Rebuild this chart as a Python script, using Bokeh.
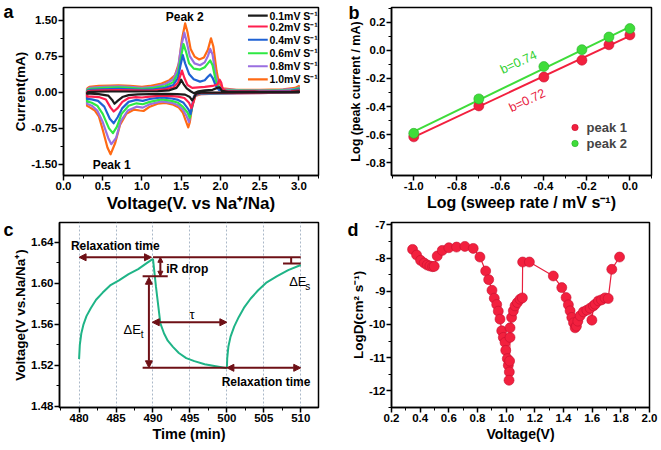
import numpy as np
from bokeh.plotting import figure
from bokeh.models import (Range1d, SingleIntervalTicker, PrintfTickFormatter, Legend, LegendItem,
                          Arrow, NormalHead, LinearAxis, FixedTicker, CustomJSTickFormatter)
from bokeh.layouts import column, row
from bokeh.embed import file_html
from bokeh.resources import INLINE
from bokeh.core.properties import value

# ---------------- Panel a data: CV loops (voltage V, current mA) ----------------
cv_rates = ["0.1mV S\u207b\u00b9", "0.2mV S\u207b\u00b9", "0.4mV S\u207b\u00b9",
            "0.6mV S\u207b\u00b9", "0.8mV S\u207b\u00b9", "1.0mV S\u207b\u00b9"]

cv01_v = [0.30, 0.35, 0.6, 0.9, 1.2, 1.35, 1.44, 1.48, 1.50, 1.53, 1.57, 1.62, 1.66, 1.72, 1.80, 1.90, 1.96, 1.99, 2.02, 2.10, 2.5, 2.9, 3.0,
          3.0, 2.5, 2.0, 1.75, 1.69, 1.66, 1.64, 1.61, 1.55, 1.45, 1.3, 1.1, 0.95, 0.83, 0.75, 0.69, 0.65, 0.62, 0.57, 0.45, 0.35, 0.30, 0.30]
cv01_i = [0.0, 0.01, 0.015, 0.015, 0.02, 0.04, 0.09, 0.18, 0.26, 0.17, 0.08, 0.02, -0.02, 0.02, 0.04, 0.05, 0.09, 0.10, 0.03, 0.01, 0.005, 0.01, 0.02,
          0.0, -0.005, -0.01, -0.01, -0.03, -0.12, -0.17, -0.10, -0.05, -0.04, -0.035, -0.04, -0.045, -0.06, -0.10, -0.18, -0.24, -0.16, -0.07, -0.04, -0.03, -0.03, 0.0]

cv02_v = [0.30, 0.35, 0.5, 0.7, 0.9, 1.0, 1.15, 1.3, 1.4, 1.46, 1.49, 1.51, 1.54, 1.58, 1.64, 1.72, 1.80, 1.90, 1.96, 1.99, 2.01, 2.03, 2.08, 2.5, 2.9, 3.0,
          3.0, 2.5, 2.0, 1.72, 1.68, 1.66, 1.63, 1.60, 1.54, 1.46, 1.38, 1.25, 1.1, 1.0, 0.92, 0.83, 0.75, 0.69, 0.64, 0.60, 0.54, 0.45, 0.36, 0.30, 0.30]
cv02_i = [0.02, 0.03, 0.04, 0.045, 0.04, 0.035, 0.04, 0.06, 0.10, 0.20, 0.35, 0.45, 0.30, 0.15, 0.09, 0.10, 0.11, 0.13, 0.16, 0.26, 0.20, 0.06, 0.02, 0.015, 0.02, 0.04,
          0.0, -0.01, -0.015, -0.02, -0.05, -0.18, -0.33, -0.22, -0.12, -0.09, -0.08, -0.07, -0.09, -0.11, -0.10, -0.12, -0.20, -0.33, -0.40, -0.32, -0.15, -0.10, -0.09, -0.09, 0.02]

cv04_v = [0.30, 0.35, 0.5, 0.7, 0.85, 1.0, 1.15, 1.3, 1.4, 1.46, 1.49, 1.52, 1.55, 1.60, 1.66, 1.74, 1.80, 1.84, 1.87, 1.90, 1.94, 1.98, 2.05, 2.5, 2.9, 3.0,
          3.0, 2.5, 2.0, 1.72, 1.67, 1.65, 1.62, 1.59, 1.53, 1.46, 1.38, 1.25, 1.1, 1.01, 0.93, 0.83, 0.75, 0.69, 0.64, 0.59, 0.52, 0.44, 0.36, 0.30, 0.30]
cv04_i = [0.03, 0.05, 0.06, 0.07, 0.06, 0.05, 0.06, 0.09, 0.15, 0.30, 0.55, 0.77, 0.60, 0.38, 0.27, 0.22, 0.25, 0.32, 0.37, 0.30, 0.14, 0.05, 0.03, 0.02, 0.03, 0.06,
          0.0, -0.01, -0.02, -0.03, -0.07, -0.22, -0.45, -0.35, -0.22, -0.16, -0.13, -0.11, -0.14, -0.18, -0.16, -0.20, -0.33, -0.52, -0.645, -0.55, -0.30, -0.18, -0.15, -0.14, 0.03]

cv06_v = [0.30, 0.34, 0.5, 0.7, 0.85, 1.0, 1.15, 1.3, 1.4, 1.46, 1.50, 1.53, 1.56, 1.60, 1.66, 1.74, 1.80, 1.84, 1.87, 1.90, 1.94, 1.98, 2.03, 2.5, 2.9, 3.0,
          3.0, 2.5, 2.0, 1.72, 1.67, 1.64, 1.61, 1.58, 1.52, 1.46, 1.38, 1.25, 1.1, 1.01, 0.93, 0.83, 0.74, 0.68, 0.63, 0.58, 0.50, 0.43, 0.36, 0.30, 0.30]
cv06_i = [0.05, 0.07, 0.09, 0.10, 0.09, 0.07, 0.09, 0.13, 0.21, 0.40, 0.75, 1.00, 0.85, 0.60, 0.49, 0.47, 0.52, 0.60, 0.66, 0.56, 0.25, 0.08, 0.04, 0.03, 0.04, 0.08,
          0.0, -0.01, -0.02, -0.03, -0.08, -0.30, -0.53, -0.42, -0.30, -0.22, -0.18, -0.15, -0.20, -0.25, -0.23, -0.28, -0.45, -0.72, -0.85, -0.75, -0.45, -0.28, -0.22, -0.19, 0.05]

cv08_v = [0.30, 0.33, 0.5, 0.7, 0.85, 1.0, 1.15, 1.3, 1.4, 1.46, 1.50, 1.54, 1.57, 1.61, 1.67, 1.74, 1.80, 1.84, 1.87, 1.90, 1.94, 1.98, 2.03, 2.3, 2.7, 2.95, 3.0,
          3.0, 2.5, 2.0, 1.72, 1.66, 1.63, 1.60, 1.57, 1.52, 1.46, 1.38, 1.25, 1.1, 1.01, 0.93, 0.82, 0.73, 0.67, 0.61, 0.57, 0.50, 0.43, 0.36, 0.30, 0.30]
cv08_i = [0.06, 0.09, 0.11, 0.12, 0.11, 0.09, 0.11, 0.17, 0.27, 0.50, 0.95, 1.24, 1.05, 0.75, 0.60, 0.56, 0.62, 0.75, 0.90, 0.78, 0.35, 0.12, 0.06, 0.04, 0.04, 0.07, 0.10,
          0.0, -0.02, -0.03, -0.04, -0.10, -0.35, -0.62, -0.50, -0.36, -0.27, -0.22, -0.19, -0.25, -0.32, -0.30, -0.38, -0.60, -0.95, -1.08, -0.95, -0.62, -0.38, -0.28, -0.24, 0.06]

cv10_v = [0.30, 0.33, 0.45, 0.6, 0.7, 0.85, 1.0, 1.1, 1.25, 1.35, 1.42, 1.47, 1.51, 1.55, 1.58, 1.62, 1.67, 1.73, 1.79, 1.84, 1.88, 1.91, 1.95, 1.98, 2.03, 2.2, 2.5, 2.8, 2.95, 3.0,
          3.0, 2.8, 2.4, 2.0, 1.75, 1.68, 1.64, 1.61, 1.59, 1.56, 1.52, 1.47, 1.4, 1.3, 1.2, 1.1, 1.02, 0.97, 0.9, 0.8, 0.72, 0.66, 0.60, 0.56, 0.50, 0.45, 0.40, 0.33, 0.30, 0.30]
cv10_i = [0.08, 0.11, 0.13, 0.14, 0.145, 0.13, 0.11, 0.13, 0.18, 0.25, 0.35, 0.60, 1.10, 1.43, 1.25, 0.90, 0.74, 0.68, 0.72, 0.88, 1.12, 0.95, 0.45, 0.20, 0.08, 0.05, 0.05, 0.06, 0.09, 0.13,
          0.0, -0.01, -0.02, -0.03, -0.04, -0.08, -0.30, -0.62, -0.73, -0.60, -0.42, -0.32, -0.26, -0.22, -0.24, -0.30, -0.39, -0.38, -0.36, -0.45, -0.68, -1.05, -1.29, -1.15, -0.78, -0.50, -0.38, -0.31, -0.28, 0.08]

# ---------------- Panel b data ----------------
log_rate = [-1.0, -0.699, -0.398, -0.222, -0.097, 0.0]
log_peak1 = [-0.615, -0.395, -0.19, -0.07, 0.04, 0.11]
log_peak2 = [-0.59, -0.345, -0.115, 0.005, 0.095, 0.155]

# ---------------- Panel c data (GITT step) ----------------
c_t1 = [480.0, 480.1, 480.3, 480.6, 481.0, 481.6, 482.3, 483.2, 484.2, 485.4, 486.7, 488.0, 489.2, 490.0]
c_v1 = [1.526, 1.540, 1.551, 1.560, 1.568, 1.576, 1.584, 1.591, 1.598, 1.603, 1.609, 1.614, 1.620, 1.624]
c_t2 = [490.0, 490.4, 491.0, 491.5, 492.0, 492.7, 493.5, 494.5, 495.6, 497.0, 498.5, 500.0]
c_v2 = [1.624, 1.597, 1.561, 1.551, 1.544, 1.538, 1.532, 1.527, 1.524, 1.521, 1.519, 1.517]
c_t3 = [500.0, 500.05, 500.2, 500.5, 501.0, 501.6, 502.3, 503.2, 504.2, 505.4, 506.8, 508.3, 510.0]
c_v3 = [1.517, 1.527, 1.538, 1.548, 1.558, 1.567, 1.576, 1.585, 1.593, 1.601, 1.607, 1.613, 1.618]

# ---------------- Panel d data ----------------
d_v = [0.347, 0.375, 0.403, 0.428, 0.449, 0.468, 0.487, 0.498, 0.519, 0.554, 0.600, 0.654, 0.712, 0.770, 0.817,
       0.857, 0.878, 0.901, 0.917, 0.934, 0.945, 0.957, 0.969, 0.980, 0.992, 0.997, 1.008, 1.015, 1.022, 1.020,
       1.024, 1.027, 1.027, 1.038, 1.050, 1.062, 1.078, 1.097, 1.113, 1.115, 1.162, 1.329, 1.388, 1.418, 1.434,
       1.446, 1.458, 1.470, 1.481, 1.490, 1.500, 1.516, 1.539, 1.563, 1.586, 1.598, 1.609, 1.621, 1.644, 1.665,
       1.690, 1.712, 1.737, 1.791]
d_logD = [-7.74, -7.91, -8.07, -8.15, -8.21, -8.24, -8.26, -8.25, -7.94, -7.77, -7.69, -7.67, -7.65, -7.71, -7.97,
          -8.39, -8.65, -8.97, -9.21, -9.40, -9.60, -9.84, -10.19, -10.39, -10.54, -10.78, -11.03, -11.23, -11.43, -11.68,
          -11.10, -10.39, -10.10, -9.79, -9.59, -9.44, -9.34, -9.24, -9.20, -8.12, -8.12, -8.54, -8.89, -9.19, -9.41,
          -9.59, -9.79, -9.95, -10.10, -10.05, -9.90, -9.74, -9.62, -9.57, -9.51, -9.87, -9.44, -9.39, -9.29, -9.26,
          -9.20, -9.22, -8.34, -7.97]

FONT = "Liberation Sans"
MAROON = "#6e1016"


def style(p, xfmt, yfmt, xint, yint, xsize, ysize="13.5px"):
    p.outline_line_color = "black"
    p.outline_line_width = 1.5
    p.grid.visible = False
    p.background_fill_color = "white"
    p.border_fill_color = "white"
    p.xaxis.ticker = SingleIntervalTicker(interval=xint, num_minor_ticks=2)
    p.yaxis.ticker = SingleIntervalTicker(interval=yint, num_minor_ticks=2)
    p.xaxis.formatter = PrintfTickFormatter(format=xfmt)
    p.yaxis.formatter = PrintfTickFormatter(format=yfmt)
    for ax in (p.xaxis[0], p.yaxis[0]):
        ax.axis_line_width = 1.5
        ax.major_tick_line_width = 1.5
        ax.minor_tick_line_width = 1
        ax.major_tick_in = 0
        ax.major_tick_out = 5
        ax.minor_tick_in = 0
        ax.minor_tick_out = 3
        ax.major_label_text_font = FONT
        ax.major_label_text_font_style = "bold"
        ax.major_label_text_font_size = "11.5px"
        ax.major_label_text_color = "black"
        ax.major_label_standoff = 2
        ax.axis_label_text_font = FONT
        ax.axis_label_text_font_style = "bold"
        ax.axis_label_text_color = "black"
        ax.axis_label_standoff = 2
    p.xaxis.axis_label_standoff = 1
    p.xaxis.major_label_standoff = 1
    p.yaxis.axis_label_standoff = 0
    p.yaxis.major_label_standoff = 1
    p.xaxis.axis_label_text_font_size = xsize
    p.yaxis.axis_label_text_font_size = ysize


def letter(p, txt, y_at, shift=0):
    # panel letter drawn as the only tick label of an otherwise invisible outer left axis
    ax = LinearAxis(ticker=FixedTicker(ticks=[y_at], minor_ticks=[]),
                    formatter=CustomJSTickFormatter(code="return '%s'" % txt),
                    axis_line_alpha=0, major_tick_line_alpha=0, minor_tick_line_alpha=0,
                    major_tick_out=0, major_tick_in=0, minor_tick_out=0, minor_tick_in=0,
                    major_label_standoff=0, major_label_text_font=FONT,
                    major_label_text_font_style="bold", major_label_text_font_size="18px",
                    major_label_text_color="black")
    if shift:
        try:
            ax.major_label_standoff = -shift
        except Exception:
            pass
    p.add_layout(ax, "left")


# ================= Panel a =================
pa = figure(width=330, height=216, output_backend="svg", toolbar_location=None,
            x_range=Range1d(0.0, 3.25), y_range=Range1d(-1.73, 1.76),
            min_border_left=60, min_border_right=12, min_border_top=7, min_border_bottom=41)
style(pa, "%.1f", "%.2f", 0.5, 0.75, "17px")
pa.xaxis.axis_label = "Voltage(V. vs Na\u207a/Na)"
pa.yaxis.axis_label = "Current(mA)"

cv_sets = [(cv01_v, cv01_i, "#1c1c1c"), (cv02_v, cv02_i, "#ff1f4f"), (cv04_v, cv04_i, "#1f62d4"),
           (cv06_v, cv06_i, "#2ee843"), (cv08_v, cv08_i, "#9a6fe0"), (cv10_v, cv10_i, "#ff6a14")]
for k in range(len(cv_sets) - 1, -1, -1):
    v, i, col = cv_sets[k]
    pa.line(v, i, line_color=col, line_width=2.2, line_join="round")

# hand-built key (legend layout positions in data units of panel a)
key_rows = [1.59, 1.365, 1.09, 0.81, 0.54, 0.265]
key_x0, key_x1, key_tx = 2.351, 2.603, 2.625
pa.segment(x0=[key_x0] * 6, y0=key_rows, x1=[key_x1] * 6, y1=key_rows,
           line_color=[c for _, _, c in cv_sets], line_width=2.2)
pa.text(x=[key_tx] * 6, y=key_rows, text=cv_rates, text_font=value(FONT), text_font_style="bold",
        text_font_size="10.5px", text_align="left", text_baseline="middle", text_color="black")

pa.text(x=[1.545], y=[1.571], text=["Peak 2"], text_font=value(FONT), text_font_style="bold",
        text_font_size="12px", text_align="center", text_baseline="middle")
pa.text(x=[0.614], y=[-1.506], text=["Peak 1"], text_font=value(FONT), text_font_style="bold",
        text_font_size="12px", text_align="center", text_baseline="middle")
letter(pa, "a", 1.735, shift=3)

# ================= Panel b =================
pb = figure(width=330, height=216, output_backend="svg", toolbar_location=None,
            x_range=Range1d(-1.103, 0.10), y_range=Range1d(-0.89, 0.305),
            min_border_left=61, min_border_right=9, min_border_top=7, min_border_bottom=41)
style(pb, "%.1f", "%.1f", 0.2, 0.2, "16px", ysize="12.5px")
pb.xaxis.axis_label = "Log (sweep rate / mV s\u207b\u00b9)"
pb.yaxis.axis_label = "Log (peak current / mA)"
RED = "#f2203e"
GREEN = "#3fdc3a"
for ys, col in ((log_peak1, RED), (log_peak2, GREEN)):
    k, b0 = np.polyfit(log_rate, ys, 1)
    xs = [min(log_rate), max(log_rate)]
    pb.line(xs, [k * x + b0 for x in xs], line_color=col, line_width=2)
s1 = pb.scatter(log_rate, log_peak1, size=10, fill_color=RED, line_color="#c81030", line_width=0.6)
s2 = pb.scatter(log_rate, log_peak2, size=10, fill_color=GREEN, line_color="#28b028", line_width=0.6)
leg_b = Legend(items=[LegendItem(label="peak 1", renderers=[s1]), LegendItem(label="peak 2", renderers=[s2])],
               location="bottom_right", margin=24, padding=0, spacing=0, label_height=16, glyph_height=16,
               glyph_width=16, label_standoff=4, border_line_alpha=0, background_fill_alpha=0,
               label_text_font=FONT, label_text_font_style="bold", label_text_font_size="13px")
pb.add_layout(leg_b)
pb.text(x=[-0.515], y=[-0.085], text=["b=0.74"], angle=25, angle_units="deg", text_color="#2fd02f",
        text_font=value(FONT), text_font_size="12.5px", text_align="center", text_baseline="middle")
pb.text(x=[-0.475], y=[-0.357], text=["b=0.72"], angle=25, angle_units="deg", text_color="#e8203e",
        text_font=value(FONT), text_font_size="12.5px", text_align="center", text_baseline="middle")
letter(pb, "b", 0.298, shift=14)

# ================= Panel c =================
pc = figure(width=330, height=233, output_backend="svg", toolbar_location=None,
            x_range=Range1d(477.35, 512.4), y_range=Range1d(1.4787, 1.6595),
            min_border_left=59, min_border_right=12, min_border_top=6, min_border_bottom=41)
style(pc, "%d", "%.2f", 5, 0.04, "14.5px")
pc.xgrid.visible = True
pc.xgrid.grid_line_color = "#aab8c8"
pc.xgrid.grid_line_dash = "2 2"
pc.xgrid.grid_line_width = 1
pc.xaxis.axis_label = "Time (min)"
pc.yaxis.axis_label = "Voltage(V vs.Na/Na\u207a)"
TEAL = "#1fb487"
for t, v in ((c_t1, c_v1), (c_t2, c_v2), (c_t3, c_v3)):
    pc.line(t, v, line_color=TEAL, line_width=2)

# annotation geometry (data units)
top_level, bot_level, ir_level, es_level = 1.6255, 1.5175, 1.607, 1.6195
pc.segment(x0=[490.0, 488.6, 507.6, 508.7, 488.6], y0=[top_level, ir_level, es_level, top_level, bot_level],
           x1=[510.0, 492.0, 510.0, 508.7, 500.0], y1=[top_level, ir_level, es_level, es_level, bot_level],
           line_color=MAROON, line_width=2)


def darrow(x0, y0, x1, y1, size=7):
    pc.add_layout(Arrow(x_start=x0, y_start=y0, x_end=x1, y_end=y1, line_color=MAROON, line_width=2,
                        start=NormalHead(size=size, fill_color=MAROON, line_color=MAROON),
                        end=NormalHead(size=size, fill_color=MAROON, line_color=MAROON)))


darrow(480.0, top_level, 489.8, top_level)
darrow(491.0, top_level, 491.0, ir_level, size=5)
darrow(489.45, 1.606, 489.45, bot_level)
darrow(489.9, 1.562, 500.0, 1.562)
darrow(500.0, bot_level, 510.0, bot_level)


def ctext(x, y, s, size="12px", align="center", style_="bold"):
    pc.text(x=[x], y=[y], text=[s], text_font=value(FONT), text_font_style=style_, text_font_size=size,
            text_align=align, text_baseline="middle", text_color="black")


ctext(484.9, 1.6364, "Relaxation time")
ctext(505.3, 1.504, "Relaxation time")
ctext(491.8, 1.6144, "iR drop", align="left")
ctext(495.3, 1.5695, "\u03c4", size="13px", style_="normal")
ctext(487.2, 1.5545, "\u0394E", size="13px", style_="normal")
ctext(488.55, 1.5505, "t", size="10px", style_="normal")
ctext(509.6, 1.6014, "\u0394E", size="13px", style_="normal")
ctext(510.95, 1.5974, "s", size="10px", style_="normal")
letter(pc, "c", 1.659, shift=3)

# ================= Panel d =================
pd_ = figure(width=330, height=233, output_backend="svg", toolbar_location=None,
             x_range=Range1d(0.2, 2.0), y_range=Range1d(-12.5, -6.93),
             min_border_left=61, min_border_right=11, min_border_top=6, min_border_bottom=42)
style(pd_, "%.1f", "%d", 0.2, 1, "14px")
pd_.xaxis.axis_label = "Voltage(V)"
pd_.yaxis.axis_label = "LogD(cm\u00b2 s\u207b\u00b9)"
pd_.line(d_v, d_logD, line_color="#e8203e", line_width=1.2)
pd_.scatter(d_v, d_logD, size=10, fill_color=RED, line_color="#c81030", line_width=0.6)
letter(pd_, "d", -6.94, shift=11)

layout = column(row(pa, pb), row(pc, pd_))
open("out.html", "w").write(file_html(layout, INLINE))
